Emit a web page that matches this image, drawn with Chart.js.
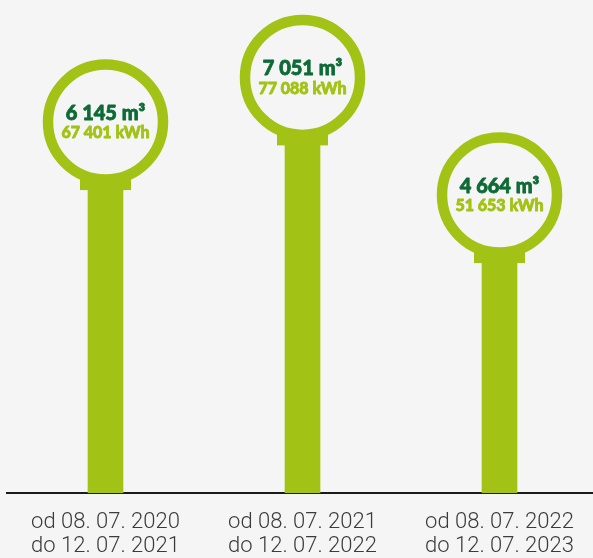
<!DOCTYPE html>
<html>
<head>
<meta charset="utf-8">
<script src="https://cdn.jsdelivr.net/npm/chart.js@4"></script>
<style>
  html, body { margin: 0; padding: 0; background: #f5f5f5; overflow: hidden; }
  #wrap { width: 600px; height: 558px; }
</style>
</head>
<body>
<div id="wrap"><canvas id="chart"></canvas></div>
<script>
// Gas consumption per yearly period
const periods = [
    ['od 08. 07. 2020', 'do 12. 07. 2021'],
    ['od 08. 07. 2021', 'do 12. 07. 2022'],
    ['od 08. 07. 2022', 'do 12. 07. 2023']
];
const volumeM3 = [6145, 7051, 4664];
const energyKWh = [67401, 77088, 51653];

const LIME = '#a2c215';
const DARK_GREEN = '#0e6a36';
const BG = '#f5f5f5';

// 6145 -> "6 145"
const fmt = n => String(n).replace(/\B(?=(\d{3})+(?!\d))/g, ' ');

// heavy text: fill plus a thin outline in the same colour
function heavyText(ctx, text, x, y, color) {
    ctx.fillStyle = color;
    ctx.strokeStyle = color;
    ctx.lineWidth = 0.8;
    ctx.lineJoin = 'round';
    ctx.fillText(text, x, y);
    ctx.strokeText(text, x, y);
}

// Draws the "lollipop" head: neck, ring and the two value lines
const bulbPlugin = {
    id: 'bulb',
    afterDatasetsDraw(chart) {
        const ctx = chart.ctx;
        const meta = chart.getDatasetMeta(0);
        meta.data.forEach((bar, i) => {
            const x = bar.x;
            const top = bar.y;
            const cy = top - 68;

            ctx.save();
            // neck
            ctx.fillStyle = LIME;
            ctx.fillRect(x - 25.5, top - 14, 51, 14);

            // ring
            ctx.beginPath();
            ctx.arc(x, cy, 57.5, 0, Math.PI * 2);
            ctx.fillStyle = BG;
            ctx.fill();
            ctx.lineWidth = 10.5;
            ctx.strokeStyle = LIME;
            ctx.stroke();

            // labels
            ctx.textAlign = 'center';
            ctx.textBaseline = 'middle';
            ctx.font = '900 20px Lato';
            heavyText(ctx, fmt(volumeM3[i]) + ' m³', x, cy - 9, DARK_GREEN);
            ctx.font = '900 16px Lato';
            heavyText(ctx, fmt(energyKWh[i]) + ' kWh', x, cy + 11, LIME);
            ctx.restore();
        });
    }
};

new Chart(document.getElementById('chart'), {
    type: 'bar',
    data: {
        labels: periods,
        datasets: [{
            data: volumeM3,
            backgroundColor: LIME,
            barThickness: 35,
            borderWidth: 0
        }]
    },
    options: {
        responsive: true,
        maintainAspectRatio: false,
        animation: false,
        layout: { padding: { left: 7, right: 2, top: 0, bottom: 0 } },
        plugins: {
            legend: { display: false },
            tooltip: { enabled: false }
        },
        scales: {
            x: {
                grid: { color: 'transparent', drawTicks: true, tickLength: 17 },
                border: { display: true, color: '#1a1a1a', width: 2 },
                ticks: {
                    padding: 0,
                    color: '#3b3b3b',
                    font: { family: 'Roboto', size: 22, weight: 300, lineHeight: 24 / 22 }
                }
            },
            y: {
                display: false,
                min: 0,
                max: 10000
            }
        }
    },
    plugins: [bulbPlugin]
});
</script>
</body>
</html>
